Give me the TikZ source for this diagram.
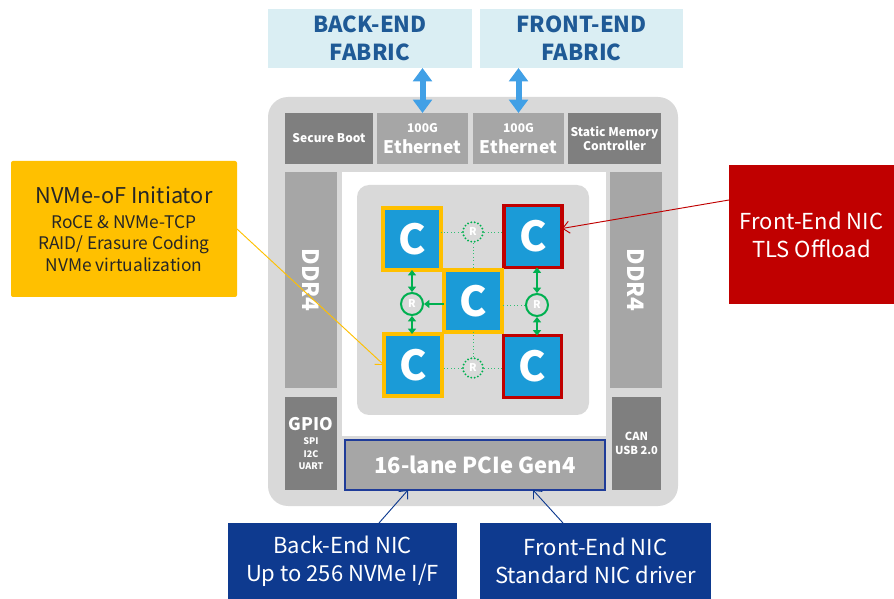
\documentclass[tikz,border=0pt]{standalone}
\usepackage{fontspec}
\setmainfont{Noto Sans CJK KR}
\usetikzlibrary{arrows.meta}
\definecolor{fabfill}{HTML}{DAEEF3}
\definecolor{fabtext}{HTML}{1F5A96}
\definecolor{chipgray}{HTML}{D9D9D9}
\definecolor{darkblk}{HTML}{7F7F7F}
\definecolor{midblk}{HTML}{A6A6A6}
\definecolor{corefill}{HTML}{1B9BD7}
\definecolor{ylw}{HTML}{FFC000}
\definecolor{rd}{HTML}{C00000}
\definecolor{navy}{HTML}{0E3A8F}
\definecolor{pcieborder}{HTML}{1F3C99}
\definecolor{grn}{HTML}{00B050}
\definecolor{arrblue}{HTML}{41A0E6}
\definecolor{darktext}{HTML}{262626}
\newcommand{\fsz}[2]{\fontsize{#1}{#2}\selectfont}
\begin{document}
\begin{tikzpicture}[x=0.75pt,y=-0.75pt,
  wh/.style 2 args={minimum width={#1*0.75pt}, minimum height={#2*0.75pt}},
  area/.style={inner sep=0pt, outer sep=0pt, align=center},
  fab/.style={area, fill=fabfill, text=fabtext, font=\bfseries\fsz{16.5}{21}},
  darkblock/.style={area, fill=darkblk, text=white, font=\bfseries\fsz{9}{11}},
  midblock/.style={area, fill=midblk, text=white, font=\bfseries},
  core/.style={area, wh={58}{62}, fill=corefill, text=white, line width=2.3pt, font=\bfseries\fsz{31}{33}},
  router/.style={circle, inner sep=0pt, minimum size=15pt, fill=chipgray, draw=grn, text=white, font=\bfseries\fsz{8}{9}},
  dotrouter/.style={router, line width=1.6pt, dash pattern=on 0pt off 2.6pt, line cap=round},
  solidrouter/.style={router, line width=1.5pt, minimum size=16.5pt},
  meshline/.style={grn!80!white, line width=0.6pt, dotted},
  mesharrow/.style={grn, line width=1.8pt, {Triangle[length=4pt,width=6pt]}-{Triangle[length=4pt,width=6pt]}},
  fabarrow/.style={arrblue, line width=4.5pt, {Triangle[length=10pt,width=14pt]}-{Triangle[length=10pt,width=14pt]}},
  callout/.style={line width=0.7pt, -{Straight Barb[length=5pt,width=9pt]}},
  note/.style={area, font=\fsz{16.5}{21}}
]
\useasboundingbox (0,0) rectangle (894,599);

% fabrics
\node[fab, wh={204}{59}] (bef) at (370,38.5) {BACK-END\\FABRIC};
\node[fab, wh={203}{59}] (fef) at (581.5,38.5) {FRONT-END\\FABRIC};

% chip body
\node[area, wh={410}{409}, fill=chipgray, rounded corners=15pt] (chip) at (473,301.5) {};

% top row
\node[darkblock, wh={88}{51}] (sboot) at (329,138.5) {Secure Boot};
\node[midblock, wh={91}{51}] (eth1) at (422.5,138.5) {\fsz{9}{12}100G\\[4pt]\fsz{13}{15}Ethernet};
\node[midblock, wh={91}{51}] (eth2) at (518.5,138.5) {\fsz{9}{12}100G\\[4pt]\fsz{13}{15}Ethernet};
\node[darkblock, wh={93}{51}] (smc) at (614.5,138.5) {Static Memory\\Controller};

% DDR4
\node[midblock, wh={52}{216}] (ddrl) at (311,280) {};
\node[area, rotate=-90, text=white, font=\bfseries\fsz{17}{19}] (ddrltxt) at (ddrl) {DDR4};
\node[midblock, wh={52}{216}] (ddrr) at (636,280) {};
\node[area, rotate=-90, text=white, font=\bfseries\fsz{17}{19}] (ddrrtxt) at (ddrr) {DDR4};

% core area
\node[area, wh={264}{264}, fill=white] (corearea) at (474,304) {};
\node[area, wh={232}{230}, fill=chipgray, rounded corners=9pt] (mesh) at (473,300) {};

% GPIO / CAN / PCIe
\node[darkblock, wh={52}{93}, font=\bfseries\fsz{6.8}{9.5}] (gpio) at (311,443.5) {\fsz{13}{15}GPIO\\[1pt]SPI\\I2C\\UART};
\node[darkblock, wh={49}{93}, font=\bfseries\fsz{8.3}{11}] (can) at (636.5,443.5) {CAN\\USB 2.0};
\node[midblock, wh={260}{50}, draw=pcieborder, line width=2pt, font=\bfseries\fsz{16.5}{18}] (pcie) at (475,465) {16-lane PCIe Gen4};

% cores
\node[core, draw=ylw] (ctl) at (412,239) {C};
\node[core, draw=rd] (ctr) at (533,236.5) {C};
\node[core, draw=ylw] (cc) at (473,301) {C};
\node[core, draw=ylw] (cbl) at (413,365) {C};
\node[core, draw=rd] (cbr) at (532.5,366.5) {C};

% routers
\node[dotrouter] (rt) at (473,232) {R};
\node[dotrouter] (rb) at (473,368) {R};
\node[solidrouter] (rl) at (412,304) {R};
\node[solidrouter] (rr) at (537,305) {R};

% mesh links
\draw[meshline] (rt.west) -- (rt.west -| ctl.east);
\draw[meshline] (rt.east) -- (rt.east -| ctr.west);
\draw[meshline] (rt.south) -- (rt.south |- cc.north);
\draw[meshline] (rb.west) -- (rb.west -| cbl.east);
\draw[meshline] (rb.east) -- (rb.east -| cbr.west);
\draw[meshline] (rb.north) -- (rb.north |- cc.south);
\draw[meshline] (rr.west) -- (rr.west -| cc.east);
\draw[mesharrow] (rl.north) -- (rl.north |- ctl.south);
\draw[mesharrow] (rl.south) -- (rl.south |- cbl.north);
\draw[grn, line width=1.8pt, -{Triangle[length=4pt,width=6pt]}] (rl.east -| cc.west) -- (rl.east);
\draw[mesharrow] (rr.north) -- (rr.north |- ctr.south);
\draw[mesharrow] (rr.south) -- (rr.south |- cbr.north);

% fabric arrows
\draw[fabarrow] (bef.south -| eth1.north) -- (eth1.north);
\draw[fabarrow] (fef.south -| eth2.north) -- (eth2.north);

% side notes
\node[note, wh={226}{136}, fill=ylw, text=darktext, rounded corners=1.5pt, font=\fsz{13}{16}] (nvme) at (124,229)
  {\fsz{16.3}{20}NVMe-oF Initiator\\[3pt]RoCE \& NVMe-TCP\\RAID/ Erasure Coding\\NVMe virtualization};
\node[note, wh={165}{139}, fill=rd, text=white] (tls) at (811.5,234.5) {Front-End NIC\\TLS Offload};
\node[note, wh={229}{76}, fill=navy, text=white] (benic) at (342.5,561) {Back-End NIC\\Up to 256 NVMe I/F};
\node[note, wh={231}{76}, fill=navy, text=white] (fenic) at (595.5,561) {Front-End NIC\\Standard NIC driver};

% callouts
\path (tls.north west) ++(0,35) coordinate (tlsout);
\draw[callout, ylw] (nvme.east) -- (cbl.west);
\draw[callout, rd] (tlsout) -- ([yshift=6pt]ctr.east);
\draw[callout, navy] (379,0 |- benic.north) -- (408,0 |- pcie.south);
\draw[callout, navy] (563,0 |- fenic.north) -- (533,0 |- pcie.south);
\end{tikzpicture}
\end{document}
